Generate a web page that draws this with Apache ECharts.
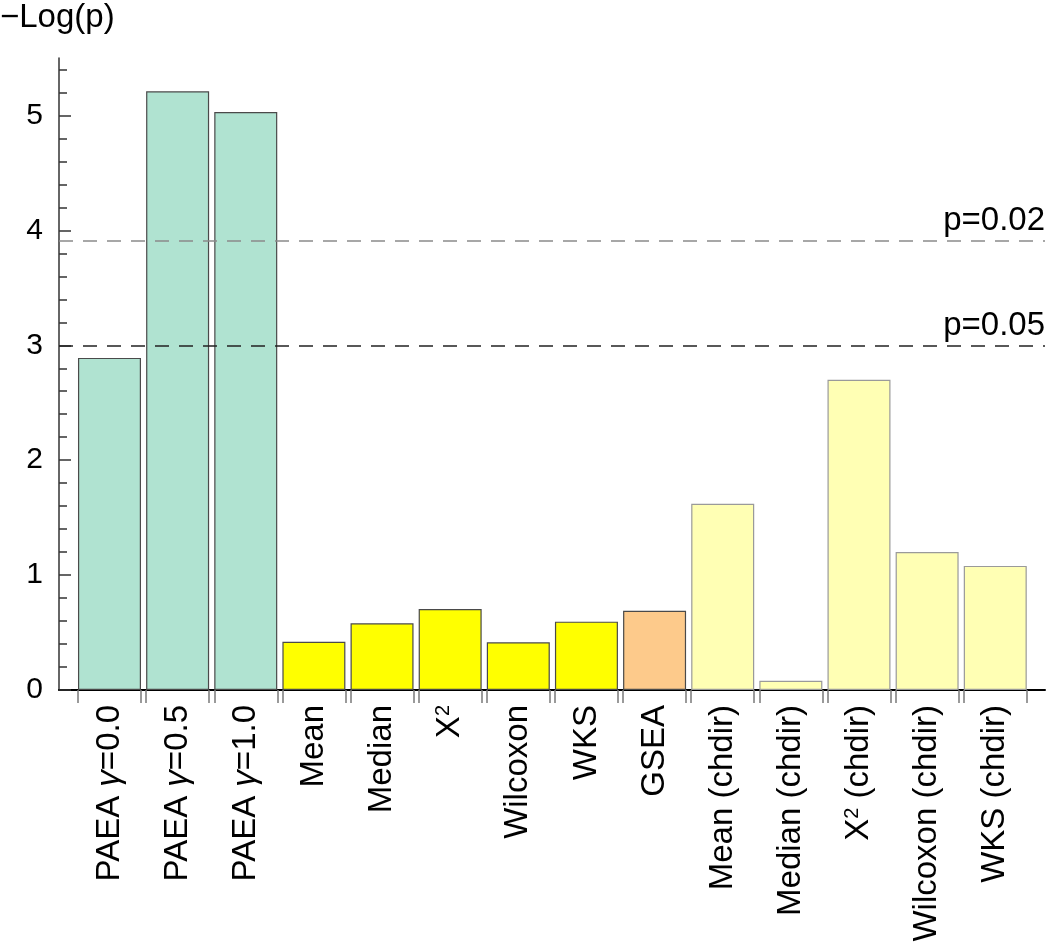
<!DOCTYPE html>
<html><head><meta charset="utf-8">
<script src="https://cdn.jsdelivr.net/npm/echarts@6/dist/echarts.min.js"></script>
<style>html,body{margin:0;padding:0;background:#fff}#c{width:1050px;height:945px}</style>
</head><body><div id="c"></div>
<script>
// ---- data ----
const categories = ['PAEA γ=0.0', 'PAEA γ=0.5', 'PAEA γ=1.0', 'Mean', 'Median', 'X²', 'Wilcoxon', 'WKS', 'GSEA',
  'Mean (chdir)', 'Median (chdir)', 'X² (chdir)', 'Wilcoxon (chdir)', 'WKS (chdir)'];
const values = [2.89, 5.21, 5.03, 0.42, 0.58, 0.705, 0.415, 0.595, 0.69, 1.62, 0.08, 2.70, 1.20, 1.08];
const groups = ['paea', 'paea', 'paea', 'std', 'std', 'std', 'std', 'std', 'gsea',
  'chdir', 'chdir', 'chdir', 'chdir', 'chdir'];
const yMajorTicks = [0, 1, 2, 3, 4, 5];
const yMinorTicks = [0.2, 0.4, 0.6, 0.8, 1.2, 1.4, 1.6, 1.8, 2.2, 2.4, 2.6, 2.8, 3.2, 3.4, 3.6, 3.8,
  4.2, 4.4, 4.6, 4.8, 5.2, 5.4];
const thresholdNames = ['p=0.02', 'p=0.05'];
const thresholdValues = [3.912, 2.996];

// ---- styles ----
const FONT = 'Liberation Sans, Arial, sans-serif';
const groupStyle = {
  paea: { color: '#b0e3d1', borderColor: '#4a4a4a' },
  std: { color: '#ffff00', borderColor: '#4a4a4a' },
  gsea: { color: '#fdca8b', borderColor: '#4a4a4a' },
  chdir: { color: '#ffffb4', borderColor: '#9a9a9a' }
};
const thresholdColors = ['#8a8a8a', '#222222'];
const BAR_W = 63;      // px
const STEP = 68.15;    // px per category
const halfFrac = (BAR_W / 2) / STEP;
const edgeTicks = [];
categories.forEach((c, i) => { edgeTicks.push(i - halfFrac, i + halfFrac); });

function richLabel(s) {
  let out = '';
  let buf = '';
  const flush = () => { if (buf) { out += '{n|' + buf + '}'; buf = ''; } };
  for (const ch of s) {
    if (ch === 'γ') { flush(); out += '{it|γ}'; }
    else if (ch === '²') { flush(); out += '{sup|2}'; }
    else buf += ch;
  }
  flush();
  return out;
}

const chart = echarts.init(document.getElementById('c'));
chart.setOption({
  animation: false,
  backgroundColor: '#ffffff',
  title: {
    text: '−Log(p)', left: 0, top: 1, padding: 0,
    textStyle: { fontFamily: FONT, fontSize: 33, fontWeight: 'normal', color: '#000' }
  },
  grid: { left: 59, right: 5, top: 58, bottom: 255, containLabel: false },
  xAxis: {
    type: 'value', min: -0.741, max: 13.73,
    splitLine: { show: false },
    axisLine: { show: true, onZero: false, lineStyle: { color: '#000', width: 2 } },
    axisTick: { show: true, customValues: edgeTicks, length: 13, lineStyle: { color: '#7a7a7a', width: 1.5 } },
    axisLabel: {
      show: true, customValues: categories.map((c, i) => i), rotate: 90, margin: 15,
      formatter: v => richLabel(categories[Math.round(v)]),
      rich: {
        n: { fontFamily: FONT, fontSize: 33, color: '#000' },
        it: { fontFamily: FONT, fontSize: 33, fontStyle: 'italic', color: '#000' },
        sup: { fontFamily: FONT, fontSize: 20, color: '#000', verticalAlign: 'top', lineHeight: 22 }
      }
    }
  },
  yAxis: [{
    type: 'value', min: 0, max: 5.5, position: 'left',
    splitLine: { show: false },
    axisLine: { show: true, onZero: false, lineStyle: { color: '#333', width: 1.5 } },
    axisTick: { show: true, inside: true, length: 12, customValues: yMajorTicks, lineStyle: { color: '#333', width: 1.5 } },
    axisLabel: { show: true, customValues: yMajorTicks, margin: 16, fontFamily: FONT, fontSize: 30, color: '#000' }
  }, {
    type: 'value', min: 0, max: 5.5, position: 'left',
    splitLine: { show: false },
    axisLine: { show: false, onZero: false },
    axisTick: { show: true, inside: true, length: 8, customValues: yMinorTicks, lineStyle: { color: '#333', width: 1.5 } },
    axisLabel: { show: false }
  }],
  series: [{
    type: 'bar',
    barWidth: BAR_W,
    yAxisIndex: 0,
    data: values.map((v, i) => ({
      value: [i, v],
      itemStyle: { color: groupStyle[groups[i]].color, borderColor: groupStyle[groups[i]].borderColor, borderWidth: 1.2 }
    })),
    markLine: {
      silent: true, symbol: 'none',
      data: thresholdValues.map((v, k) => ({
        yAxis: v,
        lineStyle: { color: thresholdColors[k], type: [14, 10], width: 1.5 },
        label: { show: true, formatter: thresholdNames[k], position: 'insideEndTop', distance: [0, 3],
          fontFamily: FONT, fontSize: 33, color: '#000' }
      }))
    }
  }]
});
</script>
</body></html>
